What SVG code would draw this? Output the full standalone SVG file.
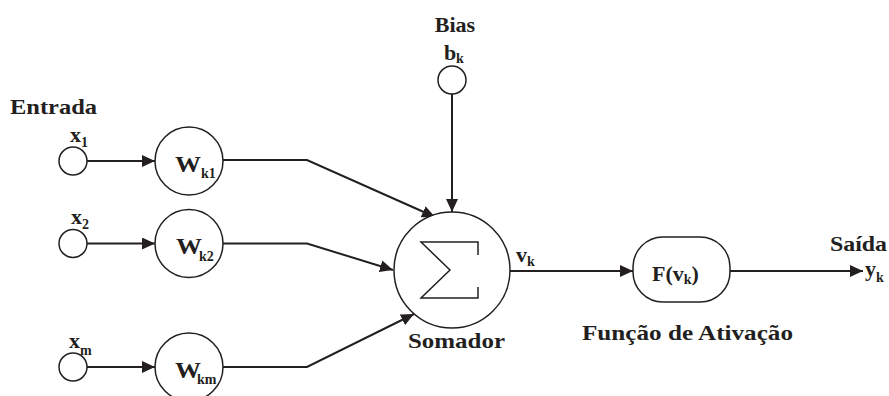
<svg xmlns="http://www.w3.org/2000/svg" width="889" height="396" viewBox="0 0 889 396">
<defs>
<style>
text{font-family:"Liberation Serif","Times New Roman",serif;font-weight:bold;fill:#231f20}
.lbl{font-size:22px}
.big{font-size:24px}
.sub{font-size:14px}
.node{fill:#fff;stroke:#231f20;stroke-width:1.5}
.edge{fill:none;stroke:#231f20;stroke-width:2}
</style>
<marker id="arr" markerUnits="userSpaceOnUse" markerWidth="14" markerHeight="12" refX="13" refY="6" orient="auto">
<path d="M0,0 L13,6 L0,12 Z" fill="#231f20"/>
</marker>
</defs>
<rect width="889" height="396" fill="#fff"/>

<g id="connectors">
<line class="edge" x1="87" y1="161" x2="155" y2="161" marker-end="url(#arr)"/>
<line class="edge" x1="87" y1="243.5" x2="155" y2="243.5" marker-end="url(#arr)"/>
<line class="edge" x1="87" y1="367" x2="155" y2="367" marker-end="url(#arr)"/>
<polyline class="edge" points="223,160 307,160 435,217" marker-end="url(#arr)"/>
<polyline class="edge" points="223,243.5 307,243.5 393,270" marker-end="url(#arr)"/>
<polyline class="edge" points="223,367 307,367 414,314" marker-end="url(#arr)"/>
<line class="edge" x1="452" y1="94" x2="452" y2="212" marker-end="url(#arr)"/>
<line class="edge" x1="510" y1="271" x2="633" y2="271" marker-end="url(#arr)"/>
<line class="edge" x1="730" y1="271" x2="863" y2="271" marker-end="url(#arr)"/>
</g>

<text class="lbl" x="10" y="114" textLength="87" lengthAdjust="spacingAndGlyphs">Entrada</text>

<g id="x1">
<circle class="node" cx="73" cy="161" r="14"/>
<text class="lbl" x="70" y="142">x</text><text class="sub" x="81" y="147">1</text>
</g>
<g id="x2">
<circle class="node" cx="73" cy="243.5" r="14"/>
<text class="lbl" x="71" y="224">x</text><text class="sub" x="82" y="229">2</text>
</g>
<g id="xm">
<circle class="node" cx="73" cy="367" r="14"/>
<text class="lbl" x="69" y="348">x</text><text class="sub" x="80" y="355">m</text>
</g>

<g id="wk1">
<circle class="node" cx="189" cy="161" r="34"/>
<text class="big" x="175" y="172" textLength="26" lengthAdjust="spacingAndGlyphs">W</text><text class="sub" x="201" y="178">k1</text>
</g>
<g id="wk2">
<circle class="node" cx="189" cy="243.5" r="34"/>
<text class="big" x="176" y="254" textLength="26" lengthAdjust="spacingAndGlyphs">W</text><text class="sub" x="199" y="261">k2</text>
</g>
<g id="wkm">
<circle class="node" cx="189" cy="367" r="34"/>
<text class="big" x="175" y="378" textLength="26" lengthAdjust="spacingAndGlyphs">W</text><text class="sub" x="197" y="384">km</text>
</g>

<g id="bias">
<text class="lbl" x="455" y="32" text-anchor="middle">Bias</text>
<text class="lbl" x="444" y="60">b</text><text class="sub" x="456" y="63">k</text>
<circle class="node" cx="452" cy="80" r="14"/>
</g>

<g id="somador">
<circle class="node" cx="452" cy="270" r="58"/>
<polyline fill="none" stroke="#231f20" stroke-width="1.5" points="478,255 478,242 421,242 450,270 421,298 478,298 478,287"/>
<text class="lbl" x="408" y="348" textLength="97" lengthAdjust="spacingAndGlyphs">Somador</text>
</g>

<text class="lbl" x="516" y="262">v</text><text class="sub" x="527" y="266">k</text>

<g id="ativacao">
<rect class="node" x="633" y="237" width="97" height="65" rx="30" ry="30"/>
<text class="lbl" x="652" y="281">F(v<tspan class="sub" dy="3">k</tspan><tspan dy="-3">)</tspan></text>
<text class="lbl" x="582" y="340" textLength="211" lengthAdjust="spacingAndGlyphs">Função de Ativação</text>
</g>

<g id="saida">
<text class="lbl" x="830" y="251" textLength="57" lengthAdjust="spacingAndGlyphs">Saída</text>
<text class="lbl" x="865" y="276">y</text><text class="sub" x="876" y="282">k</text>
</g>
</svg>
